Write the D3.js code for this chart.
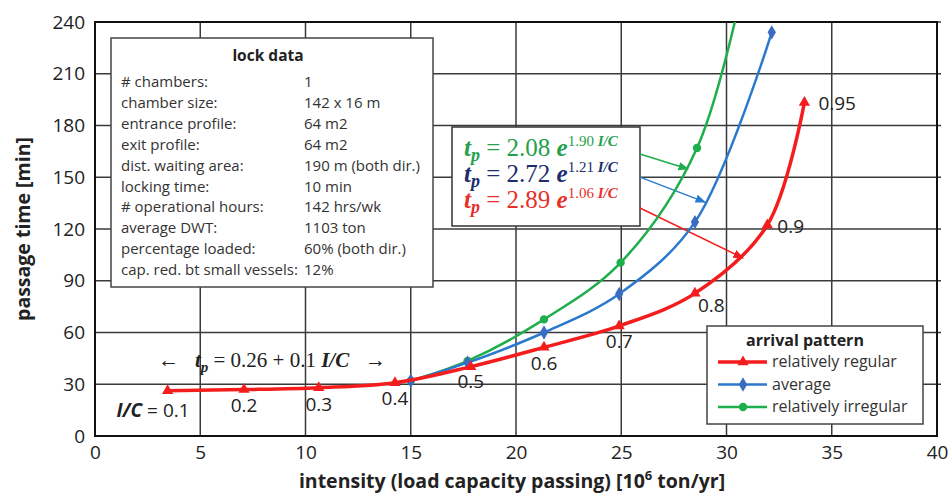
<!DOCTYPE html>
<html>
<head>
<meta charset="utf-8">
<title>Passage time vs intensity</title>
<script src="https://cdn.jsdelivr.net/npm/d3@7"></script>
<style>
    body { margin: 0; background: #fff; }
    svg { font-family: 'Open Sans', sans-serif; }
    .serif { font-family: 'Liberation Serif', serif; }
</style>
</head>
<body>
<svg id="chart" width="951" height="497"></svg>
<script>
// values
var ratios = ["0.1", "0.2", "0.3", "0.4", "0.5", "0.6", "0.7", "0.8", "0.9", "0.95"];
var regularX = [3.45, 7.08, 10.63, 14.25, 17.85, 21.33, 24.9, 28.5, 31.94, 33.7];
var regularY = [26.3, 26.9, 28.0, 30.9, 40.2, 51.4, 63.8, 82.7, 122.3, 193.4];
var averageX = [15.0, 17.7, 21.33, 24.9, 28.5, 32.15];
var averageY = [32, 42.5, 60, 82.3, 124, 234];
var irregularX = [15.0, 17.7, 21.33, 24.97, 28.6, 31.3];
var irregularY = [32, 43.5, 67.6, 100.5, 167, 290];

var xTicks = [0, 5, 10, 15, 20, 25, 30, 35, 40];
var yTicks = [0, 30, 60, 90, 120, 150, 180, 210, 240];

var seriesNames = ["relatively regular", "average", "relatively irregular"];
// equations, listed green, blue, red as in the box
var eqCoef = ["2.08", "2.72", "2.89"];
var eqExp = ["1.90", "1.21", "1.06"];
// arrow pointers from the equation box to the curves (data units)
var arrowFrom = [[25.89, 163.5], [25.89, 150.1], [25.89, 132.2]];
var arrowTo = [[28.17, 154.8], [28.98, 135.6], [30.78, 103.2]];

var lockLabels = ["# chambers:", "chamber size:", "entrance profile:", "exit profile:",
    "dist. waiting area:", "locking time:", "# operational hours:", "average DWT:",
    "percentage loaded:", "cap. red. bt small vessels:"];
var lockValues = ["1", "142 x 16 m", "64 m2", "64 m2", "190 m (both dir.)", "10 min",
    "142 hrs/wk", "1103 ton", "60% (both dir.)", "12%"];

// styling
var red = "#f41c1c", blue = "#2b79cc", green = "#1fae4c";
var eqColors = ["#26a04c", "#1d2c6c", "#e8302a"];

var margin = { top: 22, right: 14, bottom: 61, left: 95 },
    width = 951 - margin.left - margin.right,
    height = 497 - margin.top - margin.bottom;

var svg = d3.select("#chart")
    .append("g")
    .attr("transform", `translate(${margin.left},${margin.top})`);

var x = d3.scaleLinear().domain([0, 40]).range([0, width]);
var y = d3.scaleLinear().domain([0, 240]).range([height, 0]);

// grid
svg.append("g").selectAll("line").data(xTicks.slice(1, -1)).join("line")
    .attr("x1", d => x(d)).attr("x2", d => x(d))
    .attr("y1", 0).attr("y2", height)
    .attr("stroke", "#3a3a3a").attr("stroke-width", 1.5);
svg.append("g").selectAll("line").data(yTicks.slice(1)).join("line")
    .attr("x1", 0).attr("x2", width + 4)
    .attr("y1", d => y(d)).attr("y2", d => y(d))
    .attr("stroke", "#3a3a3a").attr("stroke-width", 1.5);
svg.append("rect")
    .attr("width", width).attr("height", height)
    .attr("fill", "none").attr("stroke", "#111").attr("stroke-width", 2);

// axes
var yAxis = svg.append("g")
    .call(d3.axisLeft(y).tickValues(yTicks).tickSize(0).tickPadding(10));
var xAxis = svg.append("g")
    .attr("transform", `translate(0,${height})`)
    .call(d3.axisBottom(x).tickValues(xTicks).tickSize(0).tickPadding(10));
[xAxis, yAxis].forEach(function (g) {
    g.select(".domain").remove();
    g.selectAll("text").style("font-size", "19px").attr("fill", "#222")
        .style("font-family", "'Open Sans', sans-serif");
});

svg.append("text")
    .attr("x", width / 2 - 4).attr("y", height + 52)
    .attr("text-anchor", "middle")
    .style("font-size", "19.5px").style("font-weight", "bold").attr("fill", "#222")
    .html('intensity (load capacity passing) [10<tspan dy="-8" font-size="13px">6</tspan><tspan dy="8"> ton/yr]</tspan>');

svg.append("text")
    .attr("transform", "rotate(-90)")
    .attr("x", -height / 2).attr("y", -65)
    .attr("text-anchor", "middle")
    .style("font-size", "19.5px").style("font-weight", "bold").attr("fill", "#222")
    .text("passage time [min]");

// lock data box
var lock = svg.append("g").attr("transform", "translate(16,16)");
lock.append("rect").attr("width", 322).attr("height", 249)
    .attr("fill", "#fff").attr("stroke", "#444").attr("stroke-width", 1.5);
lock.append("text").attr("x", 157).attr("y", 23)
    .attr("text-anchor", "middle")
    .style("font-size", "15.5px").style("font-weight", "bold").attr("fill", "#222")
    .text("lock data");
lock.selectAll(".lbl").data(lockLabels).join("text")
    .attr("class", "lbl")
    .attr("x", 10).attr("y", (d, i) => 49 + i * 20.9)
    .style("font-size", "15px").attr("fill", "#333")
    .text(d => d);
lock.selectAll(".val").data(lockValues).join("text")
    .attr("class", "val")
    .attr("x", 193).attr("y", (d, i) => 49 + i * 20.9)
    .style("font-size", "15px").attr("fill", "#333")
    .text(d => d);

// equation box
var eq = svg.append("g").attr("transform", "translate(357,105)");
eq.append("rect").attr("width", 188).attr("height", 99)
    .attr("fill", "#fff").attr("stroke", "#333").attr("stroke-width", 1.5);
eqCoef.forEach(function (c, i) {
    var t = eq.append("text").attr("class", "serif")
        .attr("x", 12).attr("y", 29 + i * 26)
        .attr("fill", eqColors[i]).style("font-size", "25px");
    t.append("tspan").style("font-weight", "bold").style("font-style", "italic").text("t");
    t.append("tspan").style("font-weight", "bold").style("font-style", "italic")
        .style("font-size", "18px").attr("dy", 5).text("p");
    t.append("tspan").attr("dy", -5).text(" = " + c + " ");
    t.append("tspan").style("font-weight", "bold").style("font-style", "italic").text("e");
    t.append("tspan").style("font-size", "15px").attr("dy", -10).text(eqExp[i] + " ");
    t.append("tspan").style("font-size", "15px")
        .style("font-weight", "bold").style("font-style", "italic").text("I/C");
});

// arrows
var defs = d3.select("#chart").append("defs");
eqColors.forEach(function (c, i) {
    defs.append("marker")
        .attr("id", "arr" + i)
        .attr("viewBox", "0 0 10 10").attr("refX", 9).attr("refY", 5)
        .attr("markerWidth", 7).attr("markerHeight", 7)
        .attr("orient", "auto")
        .append("path").attr("d", "M0,1L10,5L0,9Z").attr("fill", [green, blue, red][i]);
});
svg.selectAll(".arrow").data(arrowFrom).join("line")
    .attr("class", "arrow")
    .attr("x1", d => x(d[0])).attr("y1", d => y(d[1]))
    .attr("x2", (d, i) => x(arrowTo[i][0])).attr("y2", (d, i) => y(arrowTo[i][1]))
    .attr("stroke", (d, i) => [green, blue, red][i]).attr("stroke-width", 1.5)
    .attr("marker-end", (d, i) => `url(#arr${i})`);

// curves, clipped to the plot area
defs.append("clipPath").attr("id", "plotclip")
    .append("rect").attr("x", margin.left).attr("y", margin.top)
    .attr("width", width).attr("height", height);

var line = d3.line().x(d => x(d[0])).y(d => y(d[1])).curve(d3.curveCatmullRom.alpha(0.5));
var series = [
    { xs: irregularX, ys: irregularY, color: green, w: 2.5, sym: d3.symbolCircle, size: 55 },
    { xs: averageX, ys: averageY, color: blue, w: 2.5, sym: d3.symbolDiamond, size: 60, mcolor: "#3a6cc4" },
    { xs: regularX, ys: regularY, color: red, w: 3.5, sym: d3.symbolTriangle, size: 55 }
];
var plot = d3.select("#chart").append("g").attr("clip-path", "url(#plotclip)")
    .append("g").attr("transform", `translate(${margin.left},${margin.top})`);
series.forEach(function (s) {
    var pts = s.xs.map((v, i) => [v, s.ys[i]]);
    plot.append("path").datum(pts)
        .attr("fill", "none").attr("stroke", s.color).attr("stroke-width", s.w)
        .attr("d", line);
    plot.selectAll(null).data(pts).join("path")
        .attr("transform", d => `translate(${x(d[0])},${y(d[1])})`)
        .attr("d", d3.symbol(s.sym, s.size))
        .attr("fill", s.mcolor || s.color);
});

// I/C labels beside the red points
var labelPos = [null, [0, 22, "middle"], [0, 23, "middle"], [0, 22, "middle"], [0, 21, "middle"],
    [0, 23, "middle"], [0, 22, "middle"], [3, 19, "start"], [10, 8, "start"], [14, 8, "start"]];
var over = d3.select("#chart").append("g")
    .attr("transform", `translate(${margin.left},${margin.top})`);
ratios.forEach(function (r, i) {
    var px = x(regularX[i]), py = y(regularY[i]);
    if (i === 0) {
        var t = over.append("text").attr("x", px + 22).attr("y", py + 26)
            .attr("text-anchor", "end").style("font-size", "19px").attr("fill", "#222");
        t.append("tspan").style("font-weight", "bold").style("font-style", "italic").text("I/C");
        t.append("tspan").text(" = " + r);
        return;
    }
    over.append("text")
        .attr("x", px + labelPos[i][0]).attr("y", py + labelPos[i][1])
        .attr("text-anchor", labelPos[i][2])
        .style("font-size", "19px").attr("fill", "#222")
        .text(r);
});

// linear part formula
var lin = over.append("text").attr("class", "serif")
    .attr("x", x(3.0)).attr("y", height - 69)
    .style("font-size", "21px").attr("fill", "#222")
    .style("white-space", "pre");
lin.append("tspan").text("\u2190   ");
lin.append("tspan").style("font-weight", "bold").style("font-style", "italic").text("t");
lin.append("tspan").style("font-weight", "bold").style("font-style", "italic")
    .style("font-size", "15px").attr("dy", 5).text("p");
lin.append("tspan").attr("dy", -5).text(" = 0.26 + 0.1 ");
lin.append("tspan").style("font-weight", "bold").style("font-style", "italic").text("I/C");
lin.append("tspan").text("   \u2192");

// legend
var leg = over.append("g").attr("transform", "translate(612,304)");
leg.append("rect").attr("width", 216).attr("height", 98)
    .attr("fill", "#fff").attr("stroke", "#444").attr("stroke-width", 1.5);
leg.append("text").attr("x", 98).attr("y", 20)
    .attr("text-anchor", "middle")
    .style("font-size", "16px").style("font-weight", "bold").attr("fill", "#222")
    .text("arrival pattern");
var legOrder = [series[2], series[1], series[0]];
seriesNames.forEach(function (n, i) {
    var s = legOrder[i], ly = 36 + i * 22.5;
    leg.append("line").attr("x1", 11).attr("x2", 60).attr("y1", ly).attr("y2", ly)
        .attr("stroke", s.color).attr("stroke-width", s.w);
    leg.append("path").attr("transform", `translate(36,${ly})`)
        .attr("d", d3.symbol(s.sym, s.size)).attr("fill", s.mcolor || s.color);
    leg.append("text").attr("x", 65).attr("y", ly + 5)
        .style("font-size", "16px").attr("fill", "#333")
        .text(n);
});
</script>
</body>
</html>
